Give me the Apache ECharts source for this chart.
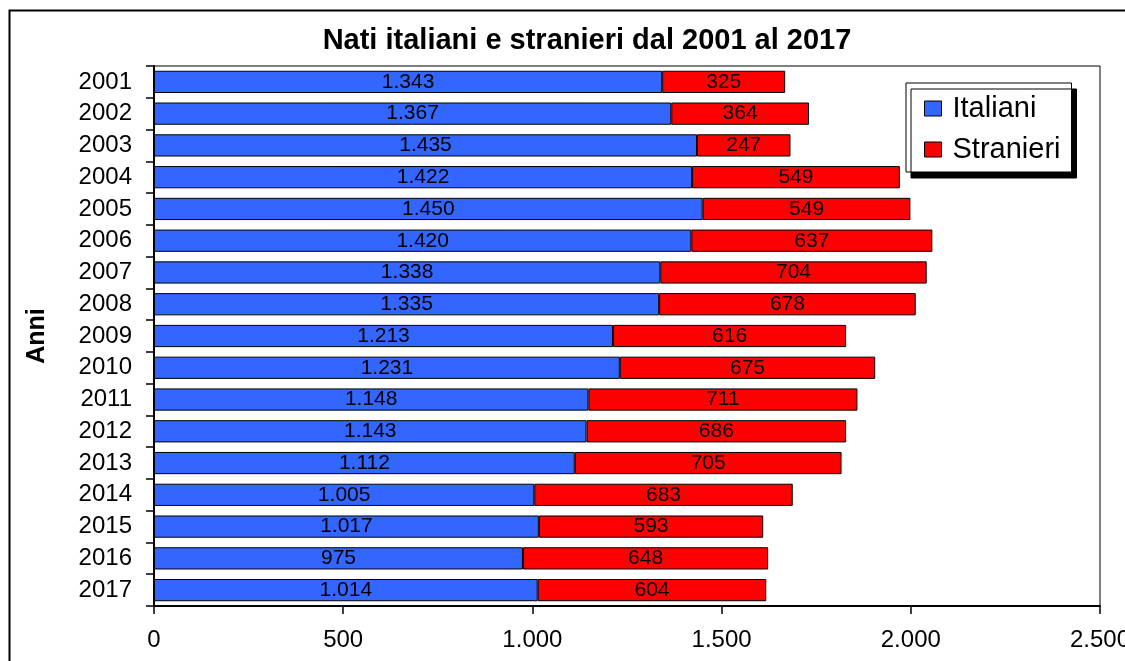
<!DOCTYPE html>
<html>
<head>
<meta charset="utf-8">
<script src="https://cdn.jsdelivr.net/npm/echarts@6/dist/echarts.min.js"></script>
<style>
  html, body { margin: 0; padding: 0; background: #fff; }
  #chart { width: 1125px; height: 661px; }
</style>
</head>
<body>
<div id="chart"></div>
<script>
// Births in the municipality, Italian vs foreign, by year
const anni = ['2001','2002','2003','2004','2005','2006','2007','2008','2009','2010','2011','2012','2013','2014','2015','2016','2017'];
const italiani = [1343,1367,1435,1422,1450,1420,1338,1335,1213,1231,1148,1143,1112,1005,1017,975,1014];
const stranieri = [325,364,247,549,549,637,704,678,616,675,711,686,705,683,593,648,604];
const xTicks = { min: 0, max: 2500, step: 500 };

const FONT = '"Liberation Sans", Arial, sans-serif';

// Italian number format: dot as thousands separator
function fmt(v) {
  return String(Math.round(v)).replace(/\B(?=(\d{3})+(?!\d))/g, '.');
}

const chart = echarts.init(document.getElementById('chart'));

const labelStyle = {
  show: true,
  position: 'inside',
  color: '#000',
  fontFamily: FONT,
  fontSize: 21,
  formatter: p => fmt(p.value)
};

chart.setOption({
  backgroundColor: '#fff',
  animation: false,
  title: {
    text: 'Nati italiani e stranieri dal 2001 al 2017',
    left: 582, top: 21, textAlign: 'center',
    textStyle: { fontFamily: FONT, fontSize: 29, fontWeight: 'bold', color: '#000' }
  },
  graphic: [{
    type: 'rect',
    shape: { x: 9.5, y: 10.5, width: 1200, height: 700 },
    style: { fill: 'none', stroke: '#000', lineWidth: 2 },
    silent: true, z: -1
  }],
  legend: {
    orient: 'vertical',
    left: 906, top: 83,
    padding: [11, 11, 8, 18],
    itemGap: 12,
    itemWidth: 17, itemHeight: 15,
    icon: 'rect',
    backgroundColor: '#fff',
    borderColor: '#000', borderWidth: 1,
    shadowColor: '#000', shadowBlur: 0, shadowOffsetX: 5, shadowOffsetY: 6,
    textStyle: { fontFamily: FONT, fontSize: 29, color: '#000', padding: [0, 0, 0, 6] },
    itemStyle: { borderColor: '#000', borderWidth: 1 },
    data: ['Italiani', 'Stranieri']
  },
  grid: {
    left: 154, top: 66, right: 25, bottom: 55,
    outerBoundsMode: 'none',
    containLabel: false,
    show: true, borderColor: '#000', borderWidth: 1, backgroundColor: '#fff'
  },
  xAxis: {
    type: 'value',
    min: xTicks.min, max: xTicks.max, interval: xTicks.step,
    axisLine: { show: true, lineStyle: { color: '#000', width: 2 } },
    axisTick: { show: true, length: 8, lineStyle: { color: '#000', width: 1.5 } },
    splitLine: { show: false },
    axisLabel: { fontFamily: FONT, fontSize: 24, color: '#000', margin: 22, formatter: v => fmt(v) }
  },
  yAxis: {
    type: 'category',
    data: anni,
    inverse: true,
    name: 'Anni',
    nameLocation: 'middle',
    nameRotate: 90,
    nameGap: 104,
    nameTextStyle: { fontFamily: FONT, fontSize: 25, fontWeight: 'bold', color: '#000' },
    axisLine: { show: true, lineStyle: { color: '#000', width: 2 } },
    axisTick: { show: true, length: 8, alignWithLabel: false, lineStyle: { color: '#000', width: 1.5 } },
    axisLabel: { fontFamily: FONT, fontSize: 24, color: '#000', margin: 22 }
  },
  series: [
    {
      name: 'Italiani', type: 'bar', stack: 'nati',
      data: italiani,
      barCategoryGap: '30%',
      itemStyle: { color: '#3366FF', borderColor: '#000', borderWidth: 1 },
      label: labelStyle
    },
    {
      name: 'Stranieri', type: 'bar', stack: 'nati',
      data: stranieri,
      itemStyle: { color: '#FF0000', borderColor: '#000', borderWidth: 1 },
      label: labelStyle
    }
  ]
});
</script>
</body>
</html>
